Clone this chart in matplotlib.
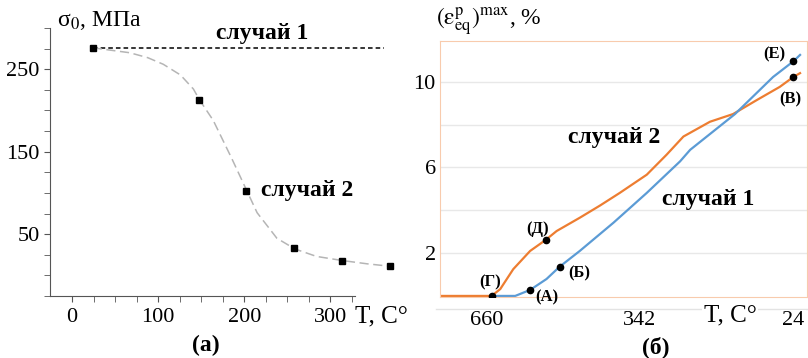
import matplotlib.pyplot as plt
from matplotlib.ticker import FixedLocator

plt.rcParams['font.family'] = ['Liberation Serif', 'DejaVu Serif']
plt.rcParams['mathtext.fontset'] = 'stix'

W, H = 808, 358

# (а) yield stress vs temperature
t_pts = [24, 148, 202, 258, 314, 369]
s_pts = [276, 213, 102, 33, 18, 11]
# fitted curve
t_fit = [24, 67, 88, 106, 126, 141, 148, 164, 185, 202, 215, 238, 259, 284, 314, 343, 370]
s_fit = [276, 270, 264, 256, 243, 226, 213, 188, 143, 105, 76, 45, 32, 23, 18, 14, 11]
t_case1 = [24, 362]
s_case1 = [276, 276]

# (б) max equivalent plastic strain vs temperature
T2 = [757, 650, 632, 605, 570, 538, 515, 467, 425, 384, 328, 287, 252, 197, 149,
      100, 52, 24, 10]
e2 = [0, 0, 0.32, 1.25, 2.10, 2.61, 3.03, 3.65, 4.22, 4.81, 5.66, 6.59, 7.44, 8.13,
      8.49, 9.14, 9.76, 10.22, 10.4]
T1 = [650, 601, 570, 536, 509, 467, 397, 328, 259, 238, 145, 66, 24, 10]
e1 = [0, 0, 0.28, 0.79, 1.36, 2.10, 3.42, 4.81, 6.28, 6.82, 8.49, 10.22, 10.95, 11.25]
mark_names = ['(Г)', '(А)', '(Б)', '(Д)', '(Е)', '(В)']
mark_T = [650, 570, 509, 538, 24, 24]
mark_e = [0, 0.28, 1.36, 2.61, 10.95, 10.22]
# label centres in pixels (from top-left)
mark_lbl = [(490, 282), (547, 297), (579, 273), (538, 229), (774, 54), (790, 99)]


def ptext(x, y, s, **kw):
    fig.text(x / W, 1 - y / H, s, ha=kw.pop('ha', 'center'),
             va=kw.pop('va', 'center'), **kw)


fig = plt.figure(figsize=(W / 100, H / 100), dpi=100)

# ---- left panel
ax = fig.add_axes([50 / W, 1 - 296 / H, 350 / W, 268 / H])
ax.plot(t_case1, s_case1, color='black', lw=1.1, ls=(0, (3, 2)))
ax.plot(t_fit, s_fit, color='#b5b5b5', lw=1.1, ls=(0, (6, 3)))
ax.plot(t_pts, s_pts, 's', color='black', ms=4)
ax.set_xlim(-25.6, 381)
ax.set_ylim(-25, 300)
for s in ['top', 'right']:
    ax.spines[s].set_visible(False)
ax.spines['bottom'].set_bounds(-25.6, 329)
for s in ['left', 'bottom']:
    ax.spines[s].set_color('#555555')
ax.xaxis.set_major_locator(FixedLocator([0, 100, 200, 300]))
ax.xaxis.set_minor_locator(FixedLocator([25, 50, 75, 125, 150, 175, 225, 250, 275, 325]))
ax.yaxis.set_major_locator(FixedLocator([50, 150, 250]))
ax.yaxis.set_minor_locator(FixedLocator([-25, 0, 25, 75, 100, 125, 175, 200, 225, 275, 300]))
ax.tick_params(which='both', direction='out', color='#555555', length=4, labelsize=16)
ax.tick_params(axis='x', pad=5)

ptext(57, 20, r'σ$_0$, МПа', fontsize=17, ha='left')
ptext(262, 33, 'случай 1', fontsize=17, fontweight='bold')
ptext(307, 190, 'случай 2', fontsize=17, fontweight='bold')
ptext(381, 316, 'T, C°', fontsize=18)
ptext(206, 345, '(а)', fontsize=17, fontweight='bold')

# ---- right panel
bx = fig.add_axes([440 / W, 1 - 297 / H, 367 / W, 256 / H])
bx.plot(T2, e2, color='#ed7d31', lw=1.6)
bx.plot(T1, e1, color='#5b9bd5', lw=1.6)
bx.plot(mark_T, mark_e, 'o', color='black', ms=4.5, zorder=5)
for name, (lx, ly) in zip(mark_names, mark_lbl):
    ptext(lx, ly, name, fontsize=12, fontweight='bold')
bx.set_xlim(757, -4.4)
bx.set_ylim(-0.05, 11.9)
bx.set_xticks([660, 342, 24])
bx.set_yticks([2, 6, 10])
bx.set_yticks([4, 8], minor=True)
bx.grid(True, which='both', axis='y', color='#e8e8e8', lw=1)
bx.tick_params(which='both', length=0, labelsize=16)
bx.tick_params(axis='x', pad=10)
bx.tick_params(axis='y', pad=3)
for s in bx.spines.values():
    s.set_color('#f8cbad')
bx.plot([-0.01, 1], [-0.048, -0.048], transform=bx.transAxes, color='#e3e3e3',
        lw=1, clip_on=False, zorder=0)
for lab in bx.get_xticklabels():
    lab.set_bbox(dict(fc='white', ec='none', pad=1))

ptext(614, 137, 'случай 2', fontsize=17, fontweight='bold')
ptext(708, 200, 'случай 1', fontsize=17, fontweight='bold')
ptext(730, 315, 'T, C°', fontsize=18, bbox=dict(fc='white', ec='none', pad=1))
ptext(436, 22, r'$(\mathrm{ε}^{\mathrm{p}}_{\mathrm{eq}})^{\mathrm{max}}$, %',
      fontsize=17, ha='left')
ptext(656, 347, '(б)', fontsize=17, fontweight='bold')

fig.savefig('out.png', dpi=100)
